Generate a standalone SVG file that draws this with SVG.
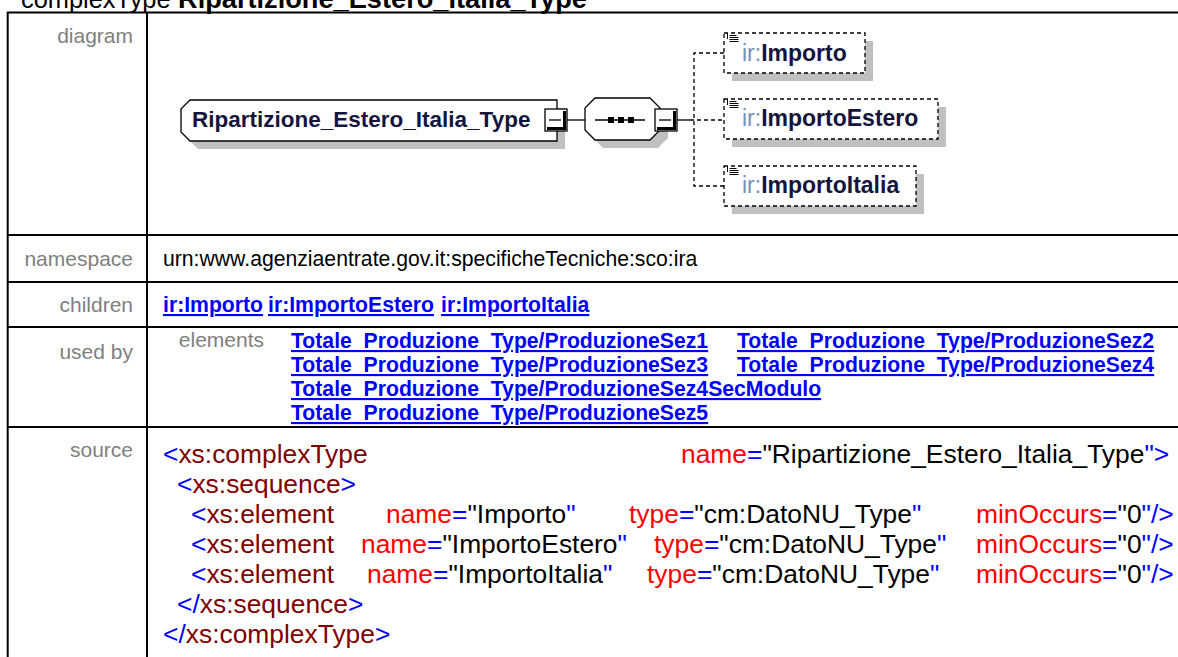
<svg xmlns="http://www.w3.org/2000/svg" width="1178" height="657" viewBox="0 0 1178 657">
<style>
text{font-family:"Liberation Sans",Arial,sans-serif}
.lbl{font-size:21px;fill:#808080;text-anchor:end}
.txt{font-size:21.2px;fill:#000}
.lnk{font-size:21.2px;font-weight:bold;fill:#0000ff;text-decoration:underline}
.src{font-size:26.4px}
.b{fill:#0000ff}.t{fill:#800000}.a{fill:#ff0000}.v{fill:#000}
.tbl{stroke:#000;stroke-width:2;fill:none}
.sh{fill:#c0c0c0}
.node{fill:#fff;stroke:#000;stroke-width:1.3}
.opt{fill:#fff;stroke:#000;stroke-width:1.3;stroke-dasharray:4 3}
.conn{stroke:#000;stroke-width:1.3;fill:none}
.dash{stroke-dasharray:4 3}
.nm{font-size:22.5px;font-weight:bold;fill:#14143c}
.cn{font-size:23px}
.pf{fill:#7890b8;font-weight:normal}
.cb{fill:#14143c;font-weight:bold}
</style>
<defs>
<g id="ico"><path d="M0,-2 V4 M2,0.5 H9 M2,2.5 H11 M2,4.5 H11 M2,6.5 H11" stroke="#000" stroke-width="1" fill="none"/></g>
<g id="minus"><rect x="0" y="0" width="22" height="22" fill="#fff" stroke="#000" stroke-width="1.3"/><path d="M19.5,2 V19.5 H2" stroke="#000" stroke-width="3" fill="none"/><line x1="4" y1="11" x2="16" y2="11" stroke="#000" stroke-width="1.3"/></g>
</defs>

<!-- title -->
<text x="21" y="8" style="font-size:25.4px;fill:#000">complexType <tspan x="178" style="font-size:27.2px;font-weight:bold">Ripartizione_Estero_Italia_Type</tspan></text>

<!-- table grid -->
<g id="table">
<line class="tbl" x1="7" y1="12.6" x2="1178" y2="12.6"/>
<line class="tbl" x1="7.7" y1="12" x2="7.7" y2="657"/>
<line class="tbl" x1="147" y1="12" x2="147" y2="657"/>
<line class="tbl" x1="7" y1="235" x2="1178" y2="235"/>
<line class="tbl" x1="7" y1="282" x2="1178" y2="282"/>
<line class="tbl" x1="7" y1="327" x2="1178" y2="327"/>
<line class="tbl" x1="7" y1="427" x2="1178" y2="427"/>
</g>

<!-- labels -->
<g id="labels">
<text class="lbl" x="133" y="43">diagram</text>
<text class="lbl" x="133" y="266">namespace</text>
<text class="lbl" x="133" y="312">children</text>
<text class="lbl" x="133" y="359">used by</text>
<text class="lbl" x="133" y="457">source</text>
</g>

<!-- diagram: connectors -->
<g id="connectors">
<line class="conn" x1="567" y1="120" x2="585" y2="120"/>
<line class="conn" x1="677" y1="120" x2="690" y2="120"/>
<line class="conn dash" x1="690" y1="120" x2="724" y2="120"/>
<path class="conn dash" d="M724,53 H694 V186 H724"/>
</g>

<!-- root node -->
<g id="root">
<path class="sh" d="M198,108 L565,108 L565,149 L198,149 L189,140 L189,117 Z"/>
<path class="node" d="M190,100 L557,100 L557,141 L190,141 L181,132 L181,109 Z"/>
<text class="nm" x="192" y="127">Ripartizione_Estero_Italia_Type</text>
<use href="#minus" x="545" y="109"/>
</g>

<!-- sequence compositor -->
<g id="sequence">
<path class="sh" d="M603,106 L658,106 L668,116 L668,138 L658,148 L603,148 L593,138 L593,116 Z"/>
<path class="node" d="M595,98 L650,98 L660,108 L660,130 L650,140 L595,140 L585,130 L585,108 Z"/>
<line class="conn" x1="595" y1="120" x2="645" y2="120"/>
<rect x="608" y="117" width="6" height="6" fill="#000"/>
<rect x="618" y="117" width="6" height="6" fill="#000"/>
<rect x="628" y="117" width="6" height="6" fill="#000"/>
<use href="#minus" x="655" y="109"/>
</g>

<!-- children -->
<g id="importo">
<rect class="sh" x="732" y="41" width="141" height="40"/>
<rect class="opt" x="724" y="33" width="141" height="40"/>
<use href="#ico" x="727.5" y="35"/>
<text class="cn" x="742" y="61"><tspan class="pf">ir:</tspan><tspan class="cb">Importo</tspan></text>
</g>
<g id="importoEstero">
<rect class="sh" x="732" y="107" width="214" height="40"/>
<rect class="opt" x="724" y="99" width="214" height="40"/>
<use href="#ico" x="727.5" y="101"/>
<text class="cn" x="742" y="126"><tspan class="pf">ir:</tspan><tspan class="cb">ImportoEstero</tspan></text>
</g>
<g id="importoItalia">
<rect class="sh" x="732" y="174" width="192" height="40"/>
<rect class="opt" x="724" y="166" width="192" height="40"/>
<use href="#ico" x="727.5" y="168"/>
<text class="cn" x="742" y="193"><tspan class="pf">ir:</tspan><tspan class="cb">ImportoItalia</tspan></text>
</g>

<!-- namespace -->
<text class="txt" x="163" y="266">urn:www.agenziaentrate.gov.it:specificheTecniche:sco:ira</text>

<!-- children links -->
<text class="lnk" x="163" y="312">ir:Importo</text>
<text class="lnk" x="268" y="312">ir:ImportoEstero</text>
<text class="lnk" x="441" y="312">ir:ImportoItalia</text>

<!-- used by -->
<text class="lbl" x="264" y="347">elements</text>
<text class="lnk" x="291" y="348">Totale_Produzione_Type/ProduzioneSez1</text>
<text class="lnk" x="737" y="348">Totale_Produzione_Type/ProduzioneSez2</text>
<text class="lnk" x="291" y="372">Totale_Produzione_Type/ProduzioneSez3</text>
<text class="lnk" x="737" y="372">Totale_Produzione_Type/ProduzioneSez4</text>
<text class="lnk" x="291" y="396">Totale_Produzione_Type/ProduzioneSez4SecModulo</text>
<text class="lnk" x="291" y="420">Totale_Produzione_Type/ProduzioneSez5</text>

<!-- source -->
<g id="source" class="src">
<text x="163" y="463"><tspan class="b">&lt;</tspan><tspan class="t">xs:complexType</tspan></text>
<text x="681" y="463"><tspan class="a">name</tspan><tspan class="b">=</tspan><tspan class="v">"Ripartizione_Estero_Italia_Type</tspan><tspan class="b">"&gt;</tspan></text>
<text x="177" y="493"><tspan class="b">&lt;</tspan><tspan class="t">xs:sequence</tspan><tspan class="b">&gt;</tspan></text>

<text x="191" y="523"><tspan class="b">&lt;</tspan><tspan class="t">xs:element</tspan></text>
<text x="386" y="523"><tspan class="a">name</tspan><tspan class="b">=</tspan><tspan class="v">"Importo</tspan><tspan class="b">"</tspan></text>
<text x="629" y="523"><tspan class="a">type</tspan><tspan class="b">=</tspan><tspan class="v">"cm:DatoNU_Type</tspan><tspan class="b">"</tspan></text>
<text x="976" y="523"><tspan class="a">minOccurs</tspan><tspan class="b">=</tspan><tspan class="v">"0</tspan><tspan class="b">"/&gt;</tspan></text>

<text x="191" y="553"><tspan class="b">&lt;</tspan><tspan class="t">xs:element</tspan></text>
<text x="361" y="553"><tspan class="a">name</tspan><tspan class="b">=</tspan><tspan class="v">"ImportoEstero</tspan><tspan class="b">"</tspan></text>
<text x="654" y="553"><tspan class="a">type</tspan><tspan class="b">=</tspan><tspan class="v">"cm:DatoNU_Type</tspan><tspan class="b">"</tspan></text>
<text x="976" y="553"><tspan class="a">minOccurs</tspan><tspan class="b">=</tspan><tspan class="v">"0</tspan><tspan class="b">"/&gt;</tspan></text>

<text x="191" y="583"><tspan class="b">&lt;</tspan><tspan class="t">xs:element</tspan></text>
<text x="367" y="583"><tspan class="a">name</tspan><tspan class="b">=</tspan><tspan class="v">"ImportoItalia</tspan><tspan class="b">"</tspan></text>
<text x="647" y="583"><tspan class="a">type</tspan><tspan class="b">=</tspan><tspan class="v">"cm:DatoNU_Type</tspan><tspan class="b">"</tspan></text>
<text x="976" y="583"><tspan class="a">minOccurs</tspan><tspan class="b">=</tspan><tspan class="v">"0</tspan><tspan class="b">"/&gt;</tspan></text>

<text x="177" y="613"><tspan class="b">&lt;/</tspan><tspan class="t">xs:sequence</tspan><tspan class="b">&gt;</tspan></text>
<text x="163" y="643"><tspan class="b">&lt;/</tspan><tspan class="t">xs:complexType</tspan><tspan class="b">&gt;</tspan></text>
</g>
</svg>
